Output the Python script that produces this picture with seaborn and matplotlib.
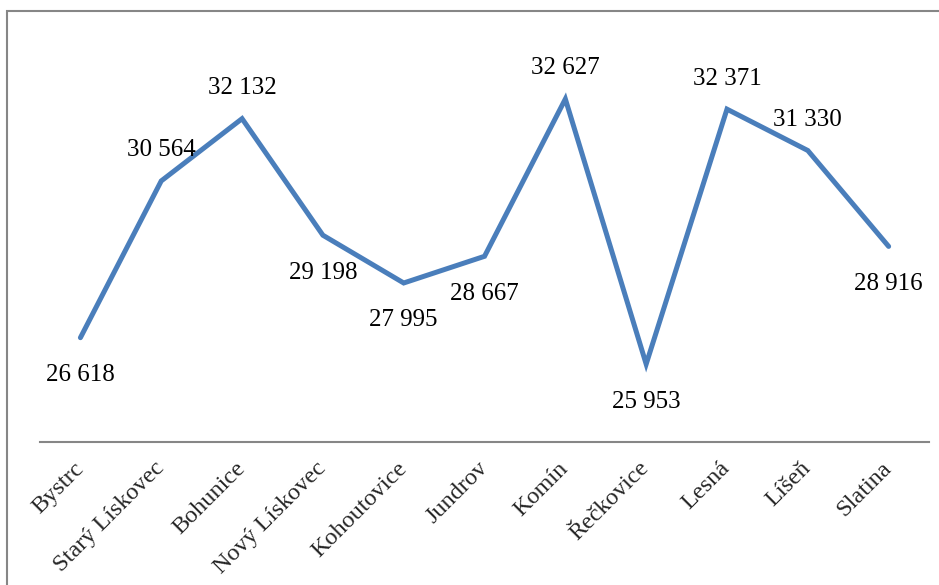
import matplotlib
matplotlib.use("Agg")
import matplotlib.pyplot as plt
import matplotlib.patches as mpatches
import seaborn as sns
import pandas as pd

districts = ["Bystrc", "Starý Lískovec", "Bohunice", "Nový Lískovec", "Kohoutovice",
             "Jundrov", "Komín", "Řečkovice", "Lesná", "Líšeň", "Slatina"]
values = [26618, 30564, 32132, 29198, 27995, 28667, 32627, 25953, 32371, 31330, 28916]
# label placement for each point: above (+1) or below (-1) the line
label_side = [-1, 1, 1, -1, -1, -1, 1, -1, 1, 1, -1]

sns.set_theme(style="white")
plt.rcParams["font.family"] = ["Liberation Serif", "DejaVu Serif"]

df = pd.DataFrame({"pos": range(len(districts)), "district": districts, "value": values})

fig = plt.figure(figsize=(9.39, 5.85), dpi=100)
fig.patch.set_facecolor("white")
ax = fig.add_axes([0.0426, 0.245, 0.9468, 0.679])

sns.lineplot(data=df, x="pos", y="value", ax=ax, color="#4A7EBB", linewidth=3.6,
             solid_joinstyle="miter")

for x, v, side in zip(df["pos"], df["value"], label_side):
    txt = f"{v:,}".replace(",", " ")
    ax.annotate(txt, (x, v), xytext=(0, 22 if side > 0 else -27),
                textcoords="offset points", ha="center", va="center",
                fontsize=18, color="black")

ax.set_xlim(-0.5, len(districts) - 0.5)
ax.set_ylim(24000, 34000)
ax.set_yticks([])
ax.set_xticks(list(df["pos"]))
ax.set_xticklabels(districts, rotation=45, ha="right", va="center",
                   rotation_mode="anchor", fontsize=17.5)
ax.tick_params(axis="x", length=0, pad=17)
ax.set_xlabel("")
ax.set_ylabel("")
for name in ["top", "right", "left"]:
    ax.spines[name].set_visible(False)
ax.spines["bottom"].set_color("#868686")
ax.spines["bottom"].set_linewidth(1.5)

# outer chart frame
W, H = 939, 585
frame = mpatches.Rectangle((7 / W, -0.05), 1.2, (H - 11) / H + 0.05,
                           transform=fig.transFigure, fill=False,
                           edgecolor="#868686", linewidth=1.5, clip_on=False)
fig.add_artist(frame)

fig.savefig("out.png", dpi=100)
